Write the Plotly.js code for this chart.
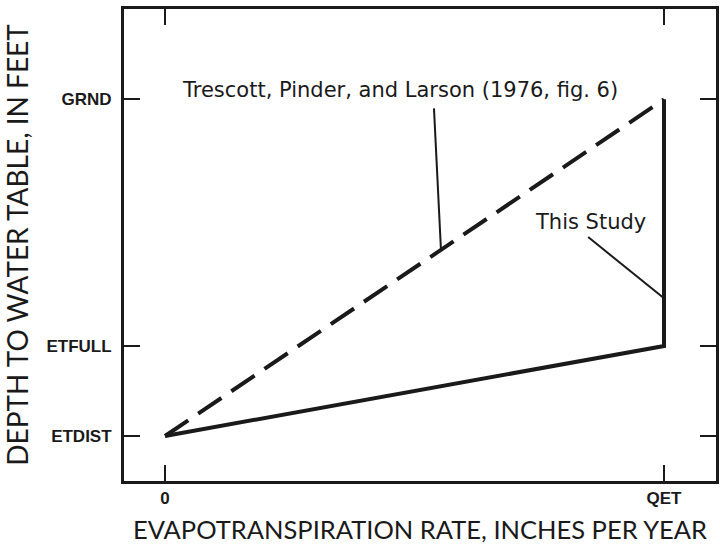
<!DOCTYPE html>
<html>
<head>
<meta charset="utf-8">
<script src="https://cdn.plot.ly/plotly-3.0.1.min.js"></script>
<style>html,body{margin:0;padding:0;background:#fff;}#chart{width:720px;height:544px;}</style>
</head>
<body>
<div id="chart"></div>
<script>
// Axis categories (positions on the linear scales)
const xTickVals = [0, 1];
const xTickText = ['0', 'QET'];
const yTickVals = [0, 1, 3.74];
const yTickText = ['ETDIST', 'ETFULL', 'GRND'];

// Trescott, Pinder, and Larson (1976) relation: dashed
const trescottX = [0, 1];
const trescottY = [0, 3.74];

// This study relation: solid
const studyX = [0, 1, 1];
const studyY = [0, 1, 3.74];

// Leader lines from labels to curves
const trescottLeaderX = [0.539, 0.553];
const trescottLeaderY = [3.64, 2.07];
const studyLeaderX = [0.848, 1];
const studyLeaderY = [2.21, 1.53];

const ink = '#1a1a1a';
const labelFont = 'DejaVu Sans, sans-serif';
const tickFontFamily = 'Liberation Sans, Arial, sans-serif';
const titleFontFamily = 'Lato, sans-serif';

const traces = [
  {x: trescottX, y: trescottY, mode: 'lines', line: {color: ink, width: 4, dash: '28px,12px'}, hoverinfo: 'skip'},
  {x: studyX, y: studyY, mode: 'lines', line: {color: ink, width: 4}, hoverinfo: 'skip'},
  {x: trescottLeaderX, y: trescottLeaderY, mode: 'lines', line: {color: ink, width: 2}, hoverinfo: 'skip'},
  {x: studyLeaderX, y: studyLeaderY, mode: 'lines', line: {color: ink, width: 2}, hoverinfo: 'skip'}
];

const axisCommon = {
  showline: true, linecolor: ink, linewidth: 3, mirror: 'all',
  ticks: 'inside', ticklen: 16, tickwidth: 2, tickcolor: ink,
  showgrid: false, zeroline: false, tickmode: 'array'
};

const layout = {
  width: 720, height: 544,
  margin: {l: 124, r: 4, t: 9, b: 63},
  paper_bgcolor: '#fff', plot_bgcolor: '#fff',
  showlegend: false,
  font: {family: tickFontFamily, color: ink},
  xaxis: Object.assign({}, axisCommon, {
    range: [-0.0822, 1.1042],
    tickvals: xTickVals, ticktext: xTickText,
    tickfont: {family: tickFontFamily, size: 17, weight: 'bold', color: ink},
    title: {text: 'EVAPOTRANSPIRATION RATE, INCHES PER YEAR', font: {family: titleFontFamily, size: 25.5, color: ink}, standoff: 20}
  }),
  yaxis: Object.assign({}, axisCommon, {
    range: [-0.5, 4.744],
    tickvals: yTickVals, ticktext: yTickText,
    ticklabelstandoff: 6,
    tickfont: {family: tickFontFamily, size: 17, weight: 'bold', color: ink},
    title: {text: 'DEPTH TO WATER TABLE, IN FEET', font: {family: titleFontFamily, size: 28, color: ink}, standoff: 18}
  }),
  annotations: [
    {x: 0.471, y: 3.844, xref: 'x', yref: 'y', text: 'Trescott, Pinder, and Larson (1976, fig. 6)', showarrow: false,
     font: {family: labelFont, size: 21, color: ink}},
    {x: 0.852, y: 2.378, xref: 'x', yref: 'y', text: 'This Study', showarrow: false,
     font: {family: labelFont, size: 21, color: ink}}
  ]
};

Plotly.newPlot('chart', traces, layout, {staticPlot: true});
</script>
</body>
</html>
